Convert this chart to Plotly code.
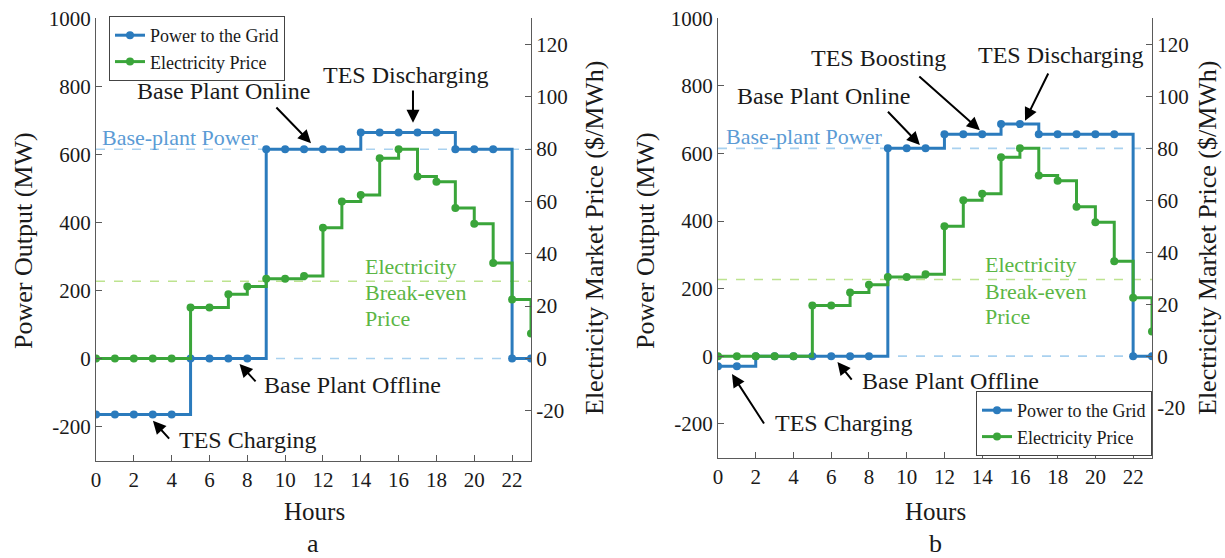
import plotly.graph_objects as go

# ---------------- data ----------------
hours = [0, 1, 2, 3, 4, 5, 6, 7, 8, 9, 10, 11, 12, 13, 14, 15, 16, 17, 18, 19, 20, 21, 22, 23]
power_a = [-165, -165, -165, -165, -165, 0, 0, 0, 0, 615, 615, 615, 615, 615,
           664, 664, 664, 664, 664, 615, 615, 615, 0, 0]
power_b = [-30, -30, 0, 0, 0, 0, 0, 0, 0, 615, 615, 615, 657, 657, 657, 687, 687,
           657, 657, 657, 657, 657, 0, 0]
price = [0, 0, 0, 0, 0, 19.5, 19.5, 24.5, 27.5, 30.5, 30.5, 31.5, 50, 60, 62.5, 76.5, 80,
         69.5, 67.5, 57.5, 51.5, 36.5, 22.5, 9.5]
base_power = 615
breakeven_price = 29.5
x_ticks = [0, 2, 4, 6, 8, 10, 12, 14, 16, 18, 20, 22]
power_ticks = [-200, 0, 200, 400, 600, 800, 1000]
price_ticks = [-20, 0, 20, 40, 60, 80, 100, 120]

# ---------------- style ----------------
W, H = 1225, 558
FONT = "Liberation Serif"
BLUE = "#2b7bbd"
GREEN = "#3aa53a"
LBLUE = "#a9d1ef"
LGREEN = "#bde38f"
AX = "#5a5a5a"
TXT = "#1a1a1a"
BP_TXT = "#5b9bd5"
BE_TXT = "#5bb645"


def px(v):
    return v / W


def py(v):
    return 1 - v / H


fig = go.Figure()

panels = [
    dict(power=power_a, xa="x", ya="y", ya2="y2", legend="legend"),
    dict(power=power_b, xa="x2", ya="y3", ya2="y4", legend="legend2"),
]

for p in panels:
    fig.add_trace(go.Scatter(
        x=hours, y=p["power"], mode="lines+markers", line_shape="hv",
        line=dict(color=BLUE, width=3), marker=dict(size=8, color=BLUE),
        name="Power to the Grid", xaxis=p["xa"], yaxis=p["ya"], legend=p["legend"],
    ))
    fig.add_trace(go.Scatter(
        x=hours, y=price, mode="lines+markers", line_shape="hv",
        line=dict(color=GREEN, width=3), marker=dict(size=8, color=GREEN),
        name="Electricity Price", xaxis=p["xa"], yaxis=p["ya2"], legend=p["legend"],
    ))
    for yv, yr, col in [(base_power, p["ya"], LBLUE), (0, p["ya"], LBLUE),
                        (breakeven_price, p["ya2"], LGREEN)]:
        fig.add_shape(type="line", xref=p["xa"] + " domain", yref=yr,
                      x0=0, x1=1, y0=yv, y1=yv, layer="below",
                      line=dict(color=col, width=1.6, dash="dash"))

xdom = [[px(96), px(531)], [px(718), px(1152)]]
ydom = [[py(460.5), py(18.3)], [py(457.5), py(18.3)]]

tickfont = dict(family=FONT, size=21, color=TXT)
common_x = dict(range=[0, 23], tickvals=x_ticks, ticks="inside", ticklen=6,
                tickcolor=AX, showline=True, linecolor=AX, linewidth=1,
                showgrid=False, zeroline=False, automargin=False, tickfont=tickfont)
common_y = dict(range=[-300, 1000], tickvals=power_ticks,
                ticktext=[str(v) for v in power_ticks],
                ticks="inside", ticklen=6, tickcolor=AX, showline=True,
                linecolor=AX, linewidth=1, showgrid=False, zeroline=False,
                automargin=False, tickfont=tickfont)
common_y2 = dict(range=[-39, 130], tickvals=price_ticks,
                 ticktext=[str(v) for v in price_ticks], side="right",
                 ticks="inside", ticklen=6, tickcolor=AX, showline=True,
                 linecolor=AX, linewidth=1, showgrid=False, zeroline=False,
                 automargin=False, tickfont=tickfont)

legfont = dict(family=FONT, size=18, color=TXT)
fig.update_layout(
    width=W, height=H, margin=dict(l=0, r=0, t=0, b=0, autoexpand=False),
    paper_bgcolor="white", plot_bgcolor="rgba(0,0,0,0)",
    font=dict(family=FONT, color=TXT),
    xaxis=dict(domain=xdom[0], anchor="y", **common_x),
    yaxis=dict(domain=ydom[0], anchor="x", **common_y),
    yaxis2=dict(domain=ydom[0], anchor="x", overlaying="y", **common_y2),
    xaxis2=dict(domain=xdom[1], anchor="y3", **common_x),
    yaxis3=dict(domain=ydom[1], anchor="x2", **common_y),
    yaxis4=dict(domain=ydom[1], anchor="x2", overlaying="y3", **common_y2),
    legend=dict(x=px(109), y=py(16), xanchor="left", yanchor="top",
                bgcolor="white", bordercolor="#444", borderwidth=1,
                font=legfont, tracegroupgap=0, itemwidth=30),
    legend2=dict(x=px(1152), y=py(456), xanchor="right", yanchor="bottom",
                 bgcolor="white", bordercolor="#444", borderwidth=1,
                 font=legfont, tracegroupgap=0, itemwidth=30),
    showlegend=True,
)

ann = []


def text(x, y, s, xr, yr, color=TXT, size=24, xanchor="center"):
    ann.append(dict(x=x, y=y, xref=xr, yref=yr, text=s, showarrow=False,
                    xanchor=xanchor, yanchor="middle",
                    font=dict(family=FONT, size=size, color=color)))


def arrow(hx, hy, tx, ty, xr, yr):
    ann.append(dict(x=hx, y=hy, ax=tx, ay=ty, xref=xr, yref=yr, axref=xr, ayref=yr,
                    text="", showarrow=True, arrowhead=2, arrowsize=1.3,
                    arrowwidth=2, arrowcolor="black", standoff=0, startstandoff=0))


# panel a
text(6.74, 786, "Base Plant Online", "x", "y")
arrow(11.37, 633, 9.46, 742, "x", "y")
text(16.39, 832, "TES Discharging", "x", "y")
arrow(16.76, 693, 16.76, 792, "x", "y")
text(8.76, -77, "Base Plant Offline", "x", "y", xanchor="left")
arrow(7.59, -16, 8.51, -72, "x", "y")
text(4.27, -241, "TES Charging", "x", "y", xanchor="left")
arrow(3.01, -183, 3.94, -240, "x", "y")
text(0.23, 650, "Base-plant Power", "x", "y", color=BP_TXT, size=22, xanchor="left")
text(14.12, 271, "Electricity", "x", "y", color=BE_TXT, size=22, xanchor="left")
text(14.12, 194, "Break-even", "x", "y", color=BE_TXT, size=22, xanchor="left")
text(14.12, 118, "Price", "x", "y", color=BE_TXT, size=22, xanchor="left")

# panel b
text(8.51, 882, "TES Boosting", "x2", "y3")
arrow(13.88, 669, 10.59, 832, "x2", "y3")
text(18.18, 891, "TES Discharging", "x2", "y3")
arrow(16.27, 697, 17.54, 841, "x2", "y3")
text(5.6, 770, "Base Plant Online", "x2", "y3")
arrow(10.7, 625, 8.93, 728, "x2", "y3")
text(0.3, 651, "Base-plant Power", "x2", "y3", color=BP_TXT, size=22, xanchor="left")
text(14.02, 270, "Electricity", "x2", "y3", color=BE_TXT, size=22, xanchor="left")
text(14.02, 191, "Break-even", "x2", "y3", color=BE_TXT, size=22, xanchor="left")
text(14.02, 117, "Price", "x2", "y3", color=BE_TXT, size=22, xanchor="left")
text(7.51, -74, "Base Plant Offline", "x2", "y3", xanchor="left")
arrow(6.33, -17, 7.15, -74, "x2", "y3")
text(2.9, -198, "TES Charging", "x2", "y3", xanchor="left")
arrow(0.74, -53, 2.49, -204, "x2", "y3")

# axis titles and panel labels
for cx in [23, 645]:
    ann.append(dict(x=px(cx), y=py(241), xref="paper", yref="paper",
                    xanchor="center", yanchor="middle",
                    text="Power Output (MW)", showarrow=False, textangle=-90,
                    font=dict(family=FONT, size=26, color=TXT)))
for cx in [595, 1208]:
    ann.append(dict(x=px(cx), y=py(238), xref="paper", yref="paper",
                    xanchor="center", yanchor="middle",
                    text="Electricity Market Price ($/MWh)", showarrow=False,
                    textangle=-90, font=dict(family=FONT, size=26, color=TXT)))
for cx in [315, 936]:
    ann.append(dict(x=px(cx), y=py(511), xref="paper", yref="paper",
                    xanchor="center", yanchor="middle",
                    text="Hours", showarrow=False,
                    font=dict(family=FONT, size=25, color=TXT)))
for cx, lab in [(313, "a"), (935, "b")]:
    ann.append(dict(x=px(cx), y=py(543), xref="paper", yref="paper",
                    xanchor="center", yanchor="middle",
                    text=lab, showarrow=False,
                    font=dict(family=FONT, size=26, color=TXT)))

fig.update_layout(annotations=ann)
fig.write_html("out.html")
